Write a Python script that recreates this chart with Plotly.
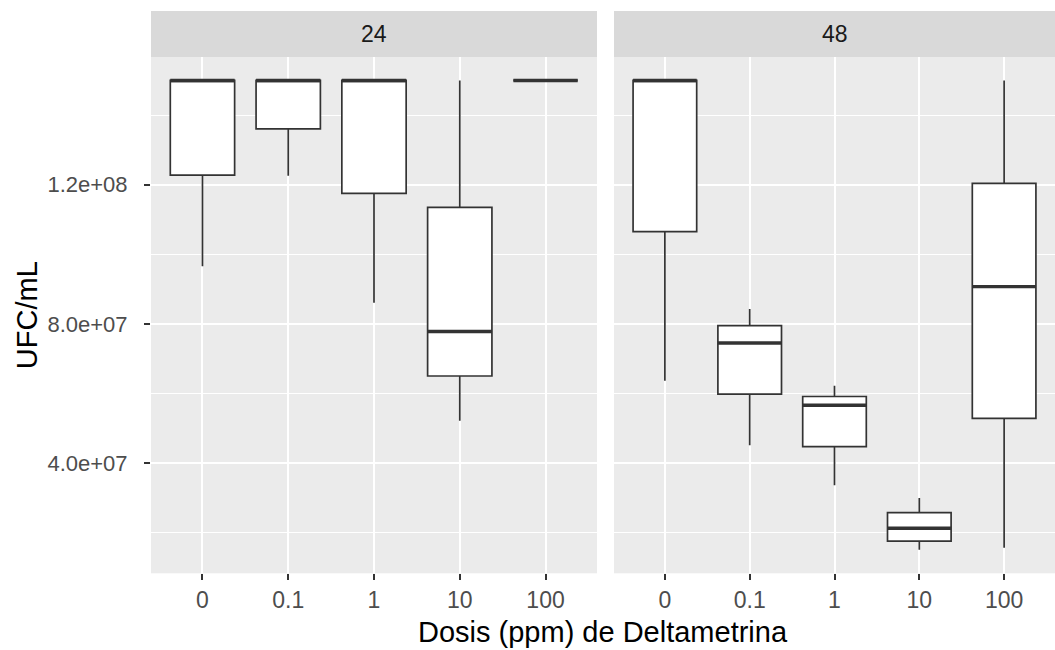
import plotly.graph_objects as go

# ---- data ----
doses = ["0", "0.1", "1", "10", "100"]
times = ["24", "48"]

q1_24 = [1.228e8, 1.361e8, 1.175e8, 6.50e7, 1.5e8]
med_24 = [1.5e8, 1.5e8, 1.5e8, 7.78e7, 1.5e8]
q3_24 = [1.5e8, 1.5e8, 1.5e8, 1.135e8, 1.5e8]
lo_24 = [9.66e7, 1.226e8, 8.61e7, 5.21e7, 1.5e8]
hi_24 = [1.5e8, 1.5e8, 1.5e8, 1.5e8, 1.5e8]

q1_48 = [1.065e8, 5.98e7, 4.47e7, 1.75e7, 5.28e7]
med_48 = [1.5e8, 7.45e7, 5.66e7, 2.12e7, 9.07e7]
q3_48 = [1.5e8, 7.95e7, 5.91e7, 2.57e7, 1.204e8]
lo_48 = [6.36e7, 4.51e7, 3.36e7, 1.50e7, 1.56e7]
hi_48 = [1.5e8, 8.43e7, 6.22e7, 2.99e7, 1.5e8]

y_tickvals = [4e7, 8e7, 1.2e8]
y_ticktext = ["4.0e+07", "8.0e+07", "1.2e+08"]
y_minor = [2e7, 6e7, 1e8, 1.4e8]

x_title = "Dosis (ppm) de Deltametrina"
y_title = "UFC/mL"

# ---- styling ----
W, H = 1055, 650
FONT = "Liberation Sans, Arial, sans-serif"
BOXW = 0.75
panels = [
    dict(q1=q1_24, med=med_24, q3=q3_24, lo=lo_24, hi=hi_24, xa="x", ya="y"),
    dict(q1=q1_48, med=med_48, q3=q3_48, lo=lo_48, hi=hi_48, xa="x2", ya="y2"),
]

ymin = min(lo_24 + lo_48)
ymax = max(hi_24 + hi_48)
pad = 0.05 * (ymax - ymin)
yrange = [ymin - pad, ymax + pad]
xpos = list(range(len(doses)))

fig = go.Figure()
for p in panels:
    fig.add_trace(go.Box(
        x=xpos, q1=p["q1"], median=p["med"], q3=p["q3"],
        lowerfence=p["lo"], upperfence=p["hi"],
        width=BOXW, whiskerwidth=0, fillcolor="white",
        line=dict(color="#333333", width=1.7),
        boxpoints=False, showlegend=False, hoverinfo="skip",
        xaxis=p["xa"], yaxis=p["ya"],
    ))
    mx, my = [], []
    for i, m in zip(xpos, p["med"]):
        mx += [i - BOXW / 2, i + BOXW / 2, None]
        my += [m, m, None]
    fig.add_trace(go.Scatter(
        x=mx, y=my, mode="lines", line=dict(color="#333333", width=3.4),
        showlegend=False, hoverinfo="skip", xaxis=p["xa"], yaxis=p["ya"],
    ))

px_l1, px_r1 = 151, 597
px_l2, px_r2 = 614, 1055
py_top, py_bot = 57, 573.3
strip_top = 11

xdom1 = [px_l1 / W, px_r1 / W]
xdom2 = [px_l2 / W, px_r2 / W]
ydom = [(H - py_bot) / H, (H - py_top) / H]

xcommon = dict(
    range=[-0.6, len(doses) - 0.4], tickmode="array", tickvals=xpos, ticktext=doses,
    showgrid=True, gridcolor="white", gridwidth=1.6, zeroline=False,
    ticks="outside", ticklen=6, tickwidth=1.5, tickcolor="#333333",
    tickfont=dict(family=FONT, size=23, color="#4D4D4D"),
    showline=False, fixedrange=True,
)
ycommon = dict(
    range=yrange, tickmode="array", tickvals=y_tickvals, ticktext=y_ticktext,
    showgrid=True, gridcolor="white", gridwidth=1.6, zeroline=False,
    minor=dict(tickmode="array", tickvals=y_minor, showgrid=True,
               gridcolor="white", gridwidth=0.8, ticks=""),
    showline=False, fixedrange=True,
    tickfont=dict(family=FONT, size=22, color="#4D4D4D"),
)

fig.update_layout(
    width=W, height=H, autosize=False,
    margin=dict(l=0, r=0, t=0, b=0, pad=0),
    paper_bgcolor="white", plot_bgcolor="#EBEBEB",
    xaxis=dict(domain=xdom1, anchor="y", **xcommon),
    xaxis2=dict(domain=xdom2, anchor="y2", **xcommon),
    yaxis=dict(domain=ydom, anchor="x", ticks="outside", ticklen=6, tickwidth=1.5,
               tickcolor="#333333", showticklabels=True, ticklabelstandoff=12, **ycommon),
    yaxis2=dict(domain=ydom, anchor="x2", matches="y", ticks="", showticklabels=False, **ycommon),
    font=dict(family=FONT),
)

shapes = []
annotations = []
for dom, t in zip([xdom1, xdom2], times):
    shapes.append(dict(type="rect", xref="paper", yref="paper",
                       x0=dom[0], x1=dom[1], y0=ydom[1], y1=(H - strip_top) / H,
                       fillcolor="#D9D9D9", line=dict(width=0), layer="below"))
    annotations.append(dict(text=t, xref="paper", yref="paper",
                            x=(dom[0] + dom[1]) / 2, y=(ydom[1] + (H - strip_top) / H) / 2,
                            xanchor="center", yanchor="middle", showarrow=False,
                            font=dict(family=FONT, size=23, color="#1A1A1A")))

annotations.append(dict(text=x_title, xref="paper", yref="paper",
                        x=(px_l1 + px_r2) / 2 / W, y=(H - 632) / H,
                        xanchor="center", yanchor="middle", showarrow=False,
                        font=dict(family=FONT, size=29, color="black")))
annotations.append(dict(text=y_title, xref="paper", yref="paper",
                        x=27 / W, y=(H - (py_top + py_bot) / 2) / H, textangle=-90,
                        xanchor="center", yanchor="middle", showarrow=False,
                        font=dict(family=FONT, size=29, color="black")))
fig.update_layout(shapes=shapes, annotations=annotations)

fig.write_html("out.html")
